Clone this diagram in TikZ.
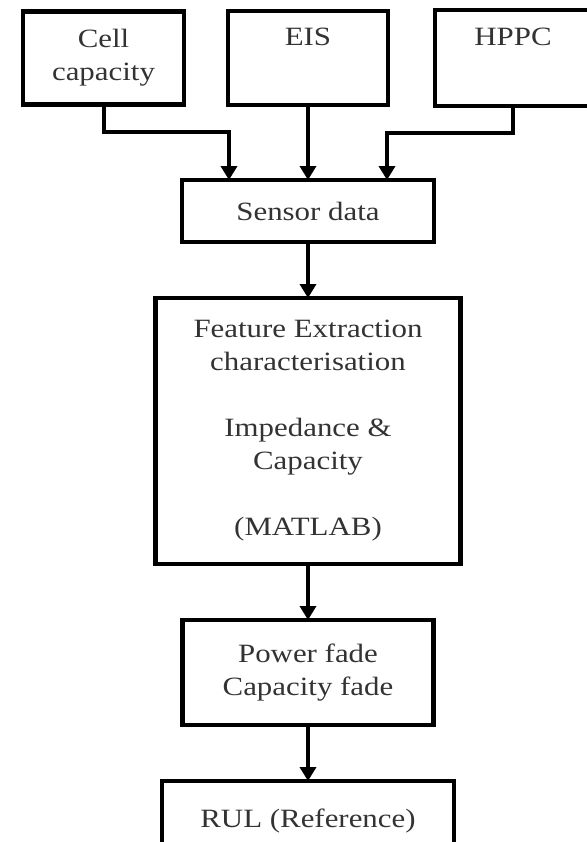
\documentclass[tikz,border=0pt]{standalone}
\usepackage{fontspec}
\setmainfont[FakeStretch=1.17]{Liberation Serif}
\usetikzlibrary{positioning,arrows.meta,calc}

\begin{document}
\begin{tikzpicture}[
                block/.style={rectangle, draw=black, line width=2.4pt, fill=white, align=center, inner sep=0pt, outer sep=0pt, text=black!80, font=\fontsize{13.2}{16.5}\selectfont},
                arrow/.style={-{Triangle[length=7pt,width=8pt]}, line width=2pt}
            ]
                \useasboundingbox (0,0) rectangle (293.5pt,-421pt);

                % top row: the three inputs
                \node[block, minimum width=80pt, minimum height=47pt] (eis) at (154pt,-29pt) {EIS\\\strut};
                \node[block, minimum width=80.5pt, minimum height=46.5pt, left=22pt of eis] (cell) {Cell\\capacity};
                \node[block, minimum width=78pt, minimum height=48pt, right=23.5pt of eis] (hppc) {HPPC\\\strut};

                % processing chain
                \node[block, minimum width=126pt, minimum height=31pt, below=37.5pt of eis] (sensor) {Sensor data};
                \node[block, minimum width=152.5pt, minimum height=133pt, below=28pt of sensor] (feature) {Feature Extraction\\characterisation\\[16.5pt] Impedance \&\\Capacity\\[16.5pt] (MATLAB)};
                \node[block, minimum width=125.5pt, minimum height=52.5pt, below=28pt of feature] (fade) {Power fade\\Capacity fade};
                \node[block, minimum width=146pt, minimum height=40pt, below=28pt of fade] (rul) {RUL (Reference)};

                \draw[arrow] (cell.south) -- ++(0,-13.5pt) -| ([xshift=23.5pt]sensor.north west);
                \draw[arrow] (eis) -- (sensor);
                \draw[arrow] (hppc.south) -- ++(0,-13.5pt) -| ([xshift=-23.5pt]sensor.north east);
                \draw[arrow] (sensor) -- (feature);
                \draw[arrow] (feature) -- (fade);
                \draw[arrow] (fade) -- (rul);
            \end{tikzpicture}
\end{document}
